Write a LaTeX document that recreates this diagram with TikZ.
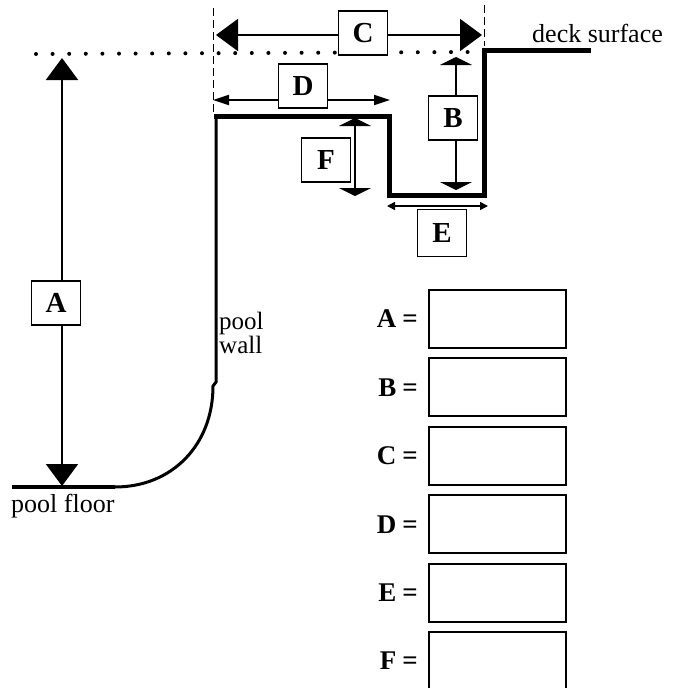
\documentclass[tikz,border=0pt]{standalone}
\usepackage{fontspec}
\setmainfont{Liberation Serif}
\usetikzlibrary{arrows.meta}

\begin{document}
\begin{tikzpicture}[x=1pt,y=-1pt,
  lbl/.style={draw,line width=1.6pt,fill=white,minimum width=49pt,minimum height=44pt,inner sep=0pt,font=\fontsize{29}{30}\selectfont\bfseries},
  ansbox/.style={draw,line width=2pt,minimum width=137pt,minimum height=58pt,inner sep=0pt},
  bigdim/.style={{Triangle[width=32pt,length=22pt]}-{Triangle[width=32pt,length=22pt]},line width=2pt},
  flatdim/.style={{Triangle[width=32pt,length=8pt]}-{Triangle[width=32pt,length=8pt]},line width=1.6pt},
  slimdim/.style={{Triangle[width=10pt,length=16pt]}-{Triangle[width=10pt,length=16pt]},line width=1.8pt}]
\useasboundingbox (0,0) rectangle (672,688);
\draw [line width=4pt,line cap=round,dash pattern=on 0pt off 16.6pt] (36,54) -- (470,52);
\draw [line width=1pt,dash pattern=on 8pt off 4pt] (213,8) -- (213,114);
\draw [line width=1pt,dash pattern=on 8pt off 4pt] (484,5) -- (484,46);
\draw [line width=4pt] (12,487) -- (115,487);
\draw [line width=3pt] (115,487) .. controls (172,487) and (213,445) .. (213,386) -- (216,382) -- (216,116);
\draw [line width=5pt] (214,116) -- (389,116) -- (389,195) -- (484,195) -- (484,50) -- (591,50);
\coordinate (A1) at (62,58);
\coordinate (A2) at (62,486);
\draw [bigdim] (A1) -- (A2);
\node [lbl] (A) at (56,303) {A};
\coordinate (C1) at (216,35);
\coordinate (C2) at (482,35);
\draw [bigdim] (C1) -- (C2);
\node [lbl] (C) at (363,33) {C};
\coordinate (D1) at (213,100);
\coordinate (D2) at (390,100);
\draw [slimdim] (D1) -- (D2);
\node [lbl] (D) at (303,86) {D};
\coordinate (B1) at (456,57);
\coordinate (B2) at (456,190);
\draw [flatdim] (B1) -- (B2);
\node [lbl] (B) at (453,118) {B};
\coordinate (F1) at (355,118);
\coordinate (F2) at (355,196);
\draw [flatdim] (F1) -- (F2);
\node [lbl] (F) at (326,160) {F};
\coordinate (E1) at (387,206);
\coordinate (E2) at (488,206);
\draw [{Triangle[width=8pt,length=8pt]}-{Triangle[width=8pt,length=8pt]},line width=1.6pt] (E1) -- (E2);
\node [lbl,minimum height=47pt] (E) at (442,233) {E};
\node [anchor=base west,inner sep=0pt,font=\fontsize{26}{26}\selectfont] (deck) at (532,42) {deck surface};
\node [anchor=base west,inner sep=0pt,font=\fontsize{26}{26}\selectfont] (floor) at (11,512) {pool floor};
\node [anchor=north west,align=left,inner sep=0pt,font=\fontsize{25}{24}\selectfont] (wall) at (219,312) {pool\\wall};
\foreach \l [count=\i from 0] in {A,B,C,D,E,F}{
  \node [ansbox] (box\l) at (497.5,319+68.4*\i) {};
  \node [anchor=east,inner sep=0pt,font=\fontsize{27}{27}\selectfont\bfseries] (eq\l) at ([xshift=-10pt]box\l.west) {\l\hspace{6pt}=};
}
\end{tikzpicture}
\end{document}
